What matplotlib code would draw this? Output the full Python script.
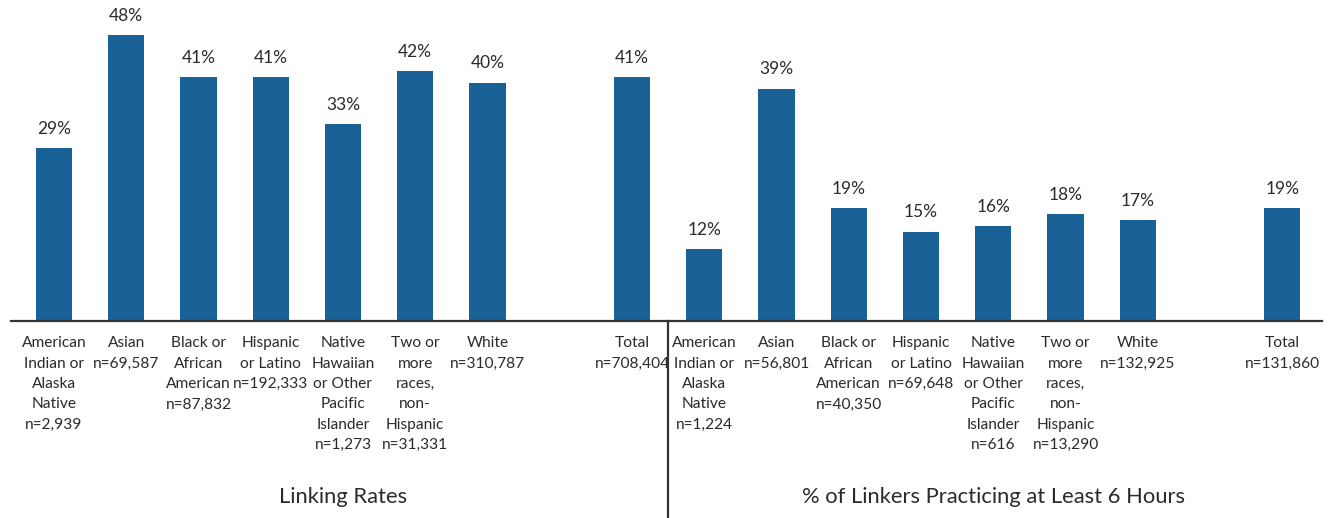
import matplotlib
matplotlib.use("Agg")
import matplotlib.pyplot as plt
from matplotlib.transforms import blended_transform_factory

plt.rcParams['font.family'] = ['Lato', 'DejaVu Sans']

# Linking rates by race/ethnicity
link_labels = ["American\nIndian or\nAlaska\nNative\nn=2,939",
               "Asian\nn=69,587",
               "Black or\nAfrican\nAmerican\nn=87,832",
               "Hispanic\nor Latino\nn=192,333",
               "Native\nHawaiian\nor Other\nPacific\nIslander\nn=1,273",
               "Two or\nmore\nraces,\nnon-\nHispanic\nn=31,331",
               "White\nn=310,787",
               "Total\nn=708,404"]
link_values = [29, 48, 41, 41, 33, 42, 40, 41]

# Share of linkers practicing at least 6 hours
practice_labels = ["American\nIndian or\nAlaska\nNative\nn=1,224",
                   "Asian\nn=56,801",
                   "Black or\nAfrican\nAmerican\nn=40,350",
                   "Hispanic\nor Latino\nn=69,648",
                   "Native\nHawaiian\nor Other\nPacific\nIslander\nn=616",
                   "Two or\nmore\nraces,\nnon-\nHispanic\nn=13,290",
                   "White\nn=132,925",
                   "Total\nn=131,860"]
practice_values = [12, 39, 19, 15, 16, 18, 17, 19]

group_titles = ["Linking Rates", "% of Linkers Practicing at Least 6 Hours"]

BAR = "#1a6198"
TXT = "#2b2b2b"

fig = plt.figure(figsize=(13.32, 5.18), dpi=100)
W, H = 1332, 518
base_px = 321
top_px = 23
ax = fig.add_axes([11 / W, (H - base_px) / H, (1322 - 11) / W, (base_px - top_px) / H])

# slot positions: 7 categories, gap, total, for each group
link_pos = [0, 1, 2, 3, 4, 5, 6, 8]
practice_pos = [9, 10, 11, 12, 13, 14, 15, 17]

positions = link_pos + practice_pos
values = link_values + practice_values
labels = link_labels + practice_labels

ax.bar(positions, values, width=0.5, color=BAR, zorder=2)

for x, v in zip(positions, values):
    ax.annotate(f"{v}%", (x, v), xytext=(0, 8), textcoords="offset points",
                ha="center", va="bottom", fontsize=12.5, color=TXT,
                annotation_clip=False)

for x, lab in zip(positions, labels):
    ax.annotate(lab, (x, 0), xytext=(0, -11), textcoords="offset points",
                ha="center", va="top", fontsize=11.2, color=TXT,
                linespacing=1.58, annotation_clip=False)

ax.set_xlim(-0.595, 17.55)
ax.set_ylim(0, 50)
for s in ["top", "right", "left"]:
    ax.spines[s].set_visible(False)
ax.spines["bottom"].set_color("#333333")
ax.spines["bottom"].set_linewidth(1.6)
ax.set_xticks([])
ax.set_yticks([])

# divider between the two groups, running down to the figure edge
tr = blended_transform_factory(ax.transData, fig.transFigure)
ax.plot([8.5, 8.5], [0, (H - base_px) / H], transform=tr, color="#333333",
        lw=1.6, clip_on=False)

title_y = (H - 497) / H
for cx, title in zip([4, 13], group_titles):
    ax.text(cx, title_y, title, transform=tr, ha="center", va="center",
            fontsize=15.8, color=TXT)

fig.savefig("out.png", dpi=100, facecolor="white")
